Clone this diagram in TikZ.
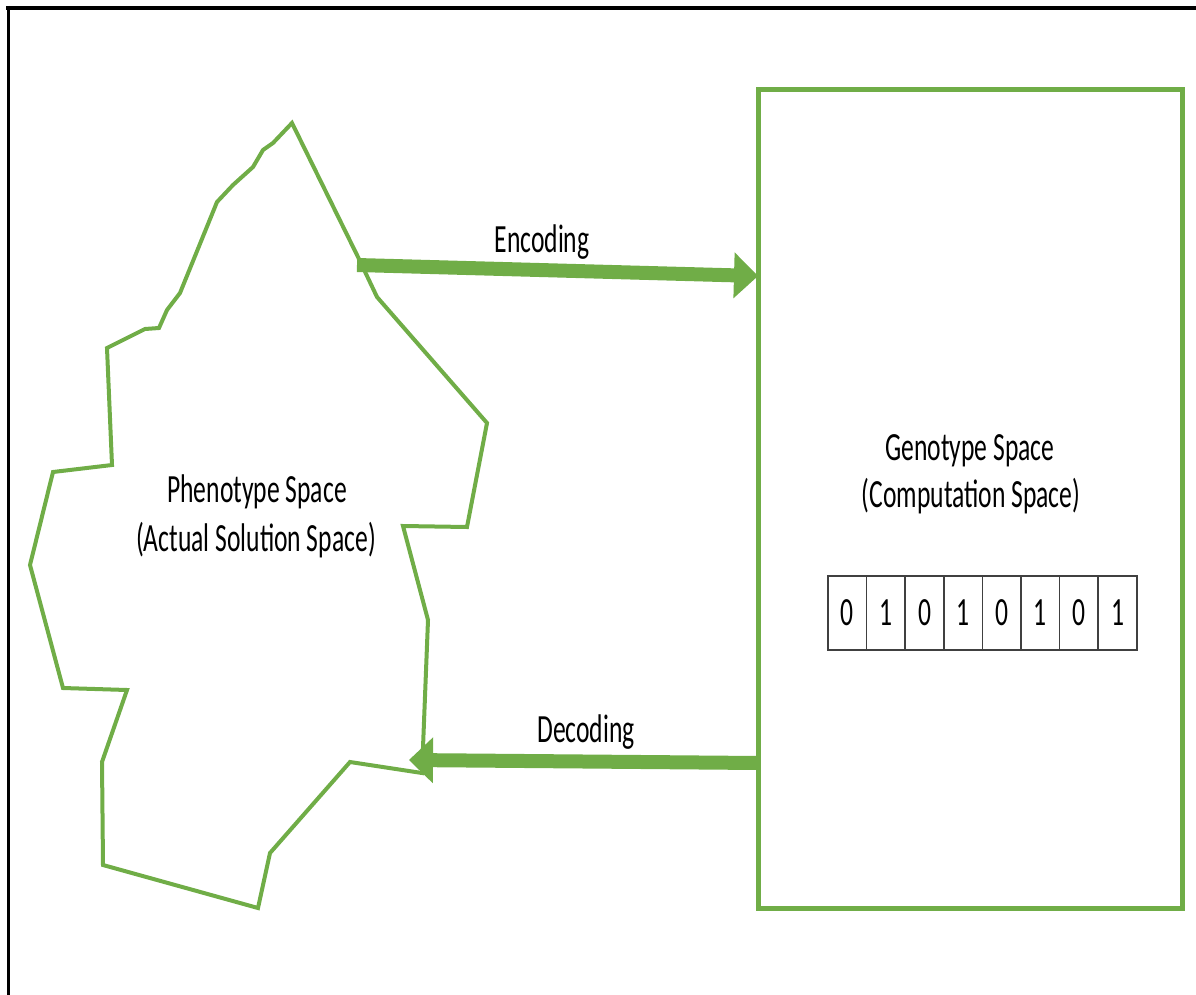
\documentclass[tikz,border=0pt]{standalone}
\usepackage{fontspec}
\setmainfont{Carlito}
\usetikzlibrary{arrows.meta}
\definecolor{leafgreen}{HTML}{70AD47}
\definecolor{cellgray}{HTML}{404040}
% narrow lettering used for every label
\newcommand{\narrow}[1]{\scalebox{0.64}[1]{#1}}
\begin{document}
\begin{tikzpicture}[x=1pt,y=-1pt,
  outline/.style={draw=leafgreen, line width=4pt, line join=miter},
  flow/.style={draw=leafgreen, line width=14pt,
    -{Triangle[length=24pt,width=46pt,line width=0pt]}},
  label/.style={font=\fontsize{40}{48}\selectfont, inner sep=0pt, anchor=base},
  bitcell/.style={draw=cellgray, line width=1.5pt, minimum width=38.6pt,
    minimum height=74pt, inner sep=0pt, outer sep=0pt,
    font=\fontsize{40}{48}\selectfont}
]
\useasboundingbox (0,0) rectangle (1196,995);

% frame edges
\draw[line width=4pt] (6,8) -- (1196,8);
\draw[line width=3pt] (8,6) -- (8,995);

% phenotype space: irregular outline
\draw[outline] (292,123) -- (358,257) -- (377,297) -- (487,423) -- (467,527)
  -- (403,526) -- (428,620) -- (422,773) -- (350,762) -- (270,853)
  -- (258,908) -- (103,865) -- (102,762) -- (127,690) -- (63,688)
  -- (30,565) -- (53,472) -- (112,465) -- (107,348) -- (145,329)
  -- (159,328) -- (167,310) -- (180,293) -- (217,202) -- (233,185)
  -- (253,167) -- (263,150) -- (273,143) -- cycle;
\node[label] (phenoA) at (257,502) {\narrow{Phenotype Space}};
\node[label] (phenoB) at (256,551) {\narrow{(Actual Solution Space)}};

% genotype space
\node[draw=leafgreen, line width=5pt, minimum width=424pt, minimum height=818pt,
  inner sep=0pt, outer sep=0pt] (geno) at (970,499) {};
\node[label] (genoA) at (970,460) {\narrow{Genotype Space}};
\node[label] (genoB) at (971,507) {\narrow{(Computation Space)}};

% chromosome bits
\foreach \b [count=\i from 0] in {0,1,0,1,0,1,0,1} {
  \node[bitcell] (bit\i) at ({828+38.6*(\i+0.5)},613) {\narrow{\b}};
}

% mappings between the spaces
\coordinate (encFrom) at (357,265);
\coordinate (decTo) at (409,760);
\draw[flow] (encFrom) -- (geno.west |- 0,276);
\draw[flow] (geno.west |- 0,763) -- (decTo);
\node[label] (enc) at (542,252) {\narrow{Encoding}};
\node[label] (dec) at (586,742) {\narrow{Decoding}};
\end{tikzpicture}
\end{document}
